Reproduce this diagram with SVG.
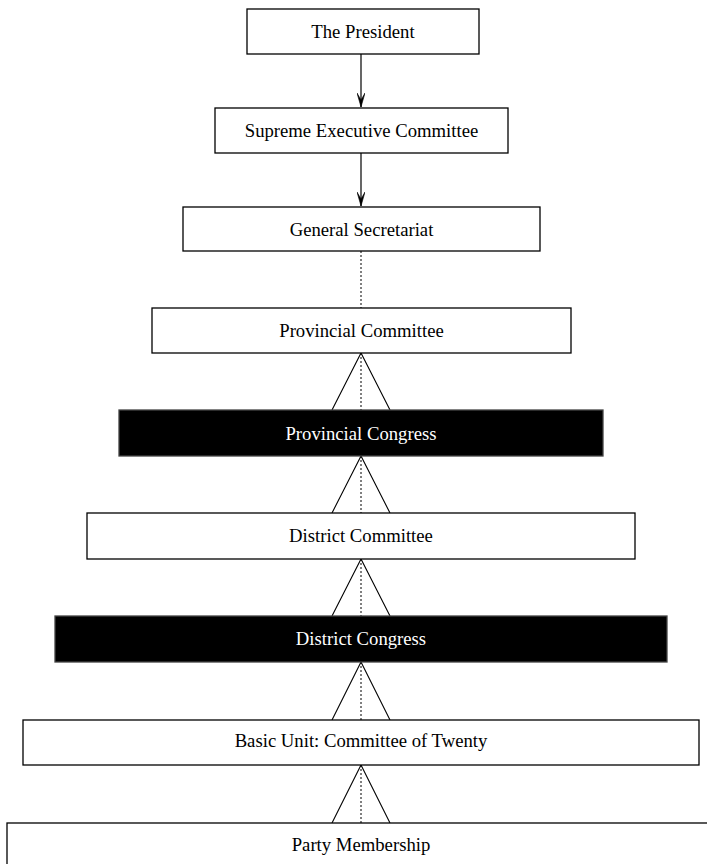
<svg xmlns="http://www.w3.org/2000/svg" width="707" height="864" viewBox="0 0 707 864">
<style>
.box{fill:#fff;stroke:#000;stroke-width:1.3}
.dark{fill:#000;stroke:#444;stroke-width:1.3}
.t{font-family:"Liberation Serif","Times New Roman",serif;font-size:18.7px;text-anchor:middle;fill:#000}
.tw{fill:#fff}
.ln{stroke:#000;stroke-width:1.2;fill:none}
.dot{stroke:#000;stroke-width:1;stroke-dasharray:2,2;fill:none}
.tri{stroke:#000;stroke-width:1.1;fill:none}
</style>
<defs>
<marker id="v" viewBox="0 0 14 8" refX="14" refY="4" markerWidth="14" markerHeight="8" markerUnits="userSpaceOnUse" orient="auto">
<path d="M0,0 L14,4 L0,8 L7,4 Z" fill="#000" stroke="#000" stroke-width="0.6" stroke-linejoin="miter"/>
</marker>
</defs>
<g id="connectors">
<line class="ln" x1="361" y1="54" x2="361" y2="107" marker-end="url(#v)"/>
<line class="ln" x1="361" y1="153" x2="361" y2="206" marker-end="url(#v)"/>
<line class="dot" x1="361" y1="251" x2="361" y2="308"/>
<path class="tri" d="M332,410 L361,353 L390,410"/>
<line class="dot" x1="361" y1="353" x2="361" y2="410"/>
<path class="tri" d="M332,513 L361,456 L390,513"/>
<line class="dot" x1="361" y1="456" x2="361" y2="513"/>
<path class="tri" d="M332,616 L361,559 L390,616"/>
<line class="dot" x1="361" y1="559" x2="361" y2="616"/>
<path class="tri" d="M332,720 L361,662 L390,720"/>
<line class="dot" x1="361" y1="662" x2="361" y2="720"/>
<path class="tri" d="M332,823 L361,765 L390,823"/>
<line class="dot" x1="361" y1="765" x2="361" y2="823"/>
</g>
<g id="president"><rect class="box" x="247" y="9" width="232" height="45"/><text class="t" x="363" y="38">The President</text></g>
<g id="supreme"><rect class="box" x="215" y="108" width="293" height="45"/><text class="t" x="361.5" y="137">Supreme Executive Committee</text></g>
<g id="secretariat"><rect class="box" x="183" y="207" width="357" height="44"/><text class="t" x="361.5" y="235.5">General Secretariat</text></g>
<g id="prov-committee"><rect class="box" x="152" y="308" width="419" height="45"/><text class="t" x="361.5" y="336.5">Provincial Committee</text></g>
<g id="prov-congress"><rect class="dark" x="119" y="410" width="484" height="46"/><text class="t tw" x="361" y="439.5">Provincial Congress</text></g>
<g id="district-committee"><rect class="box" x="87" y="513" width="548" height="46"/><text class="t" x="361" y="541.5">District Committee</text></g>
<g id="district-congress"><rect class="dark" x="55" y="616" width="612" height="46"/><text class="t tw" x="361" y="645">District Congress</text></g>
<g id="basic-unit"><rect class="box" x="23" y="720" width="676" height="45"/><text class="t" x="361" y="747">Basic Unit: Committee of Twenty</text></g>
<g id="membership"><rect class="box" x="7" y="823" width="710" height="60"/><text class="t" x="361" y="851">Party Membership</text></g>
</svg>
